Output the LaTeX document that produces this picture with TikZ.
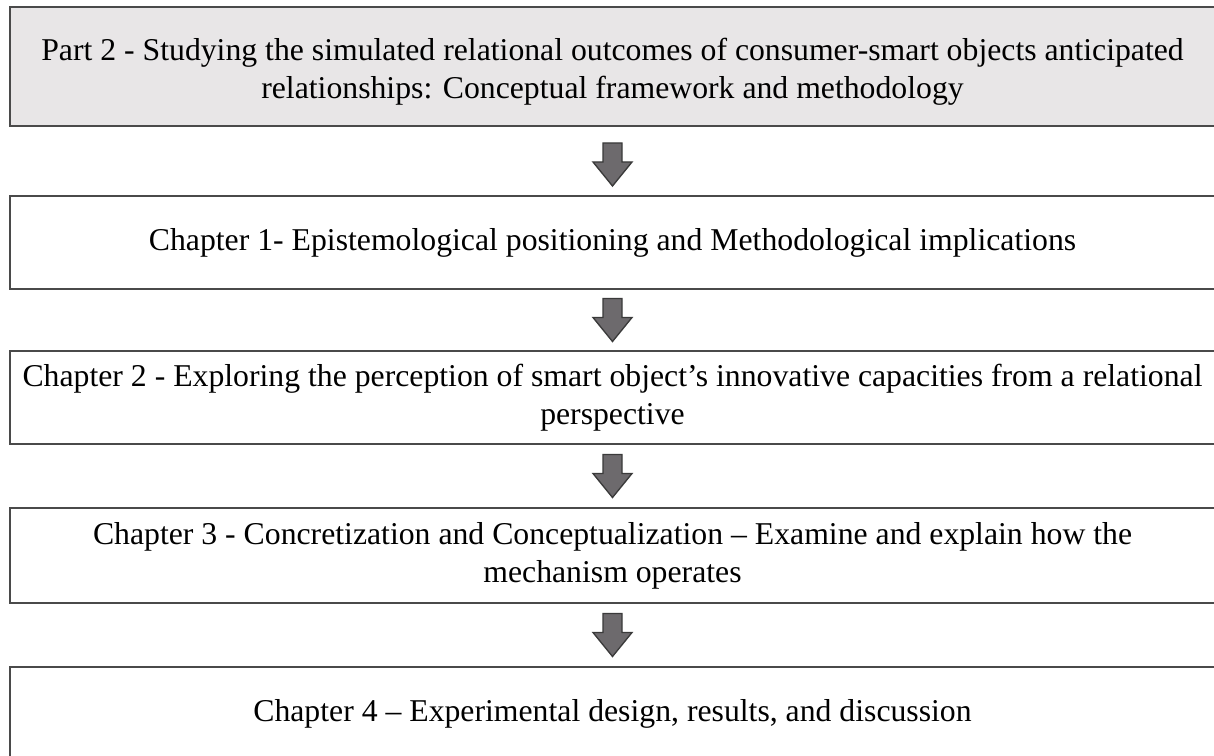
\documentclass[tikz,border=0pt]{standalone}
\usepackage{fontspec}
\setmainfont{Liberation Serif}
\usetikzlibrary{calc}
\definecolor{edgec}{HTML}{4A4A4A}
\definecolor{headfill}{HTML}{E8E6E7}
\definecolor{arrowfill}{HTML}{6D6A6D}
\definecolor{arrowedge}{HTML}{3A3A3A}
\tikzset{
  box/.style={draw=edgec, line width=1.6pt, inner sep=0pt, align=center,
    font=\fontsize{23.8}{28.5}\selectfont, text=black},
  blockarrow/.style={fill=arrowfill, draw=arrowedge, line width=1pt, line join=miter}
}
\newcommand{\blockarrowat}[1]{%
  \draw[blockarrow] (#1) ++(-9.5,-21.5) -- ++(19,0) -- ++(0,19) -- ++(10,0)
    -- ++(-19.5,24) -- ++(-19.5,-24) -- ++(10,0) -- cycle;}
\begin{document}
\begin{tikzpicture}[x=0.75pt,y=-0.75pt]
\useasboundingbox (0,0) rectangle (1214,756);
\clip (0,0) rectangle (1214,756);
\fill[white] (0,0) rectangle (1214,756);
\node[box, fill=headfill, minimum width=1205*0.75pt, minimum height=119*0.75pt] (b1) at (612.5,66.5)
  {\rule{0pt}{24pt}Part 2 - Studying the simulated relational outcomes of consumer-smart objects anticipated\\relationships: Conceptual framework and methodology};
\node[box, minimum width=1205*0.75pt, minimum height=93*0.75pt] (b2) at (612.5,242.5)
  {Chapter 1- Epistemological positioning and Methodological implications};
\node[box, minimum width=1205*0.75pt, minimum height=93*0.75pt] (b3) at (612.5,397.5)
  {Chapter 2 - Exploring the perception of smart object’s innovative capacities from a relational\\perspective};
\node[box, minimum width=1205*0.75pt, minimum height=95*0.75pt] (b4) at (612.5,555.5)
  {Chapter 3 - Concretization and Conceptualization -- Examine and explain how the\\mechanism operates};
\node[box, minimum width=1205*0.75pt, minimum height=93*0.75pt] (b5) at (612.5,713.5)
  {Chapter 4 -- Experimental design, results, and discussion};
\coordinate (m1) at ($(b1.south)!0.5!(b2.north)+(0,3.5)$);
\coordinate (m2) at ($(b2.south)!0.5!(b3.north)$);
\coordinate (m3) at ($(b3.south)!0.5!(b4.north)$);
\coordinate (m4) at ($(b4.south)!0.5!(b5.north)$);
\blockarrowat{m1}
\blockarrowat{m2}
\blockarrowat{m3}
\blockarrowat{m4}
\end{tikzpicture}
\end{document}
